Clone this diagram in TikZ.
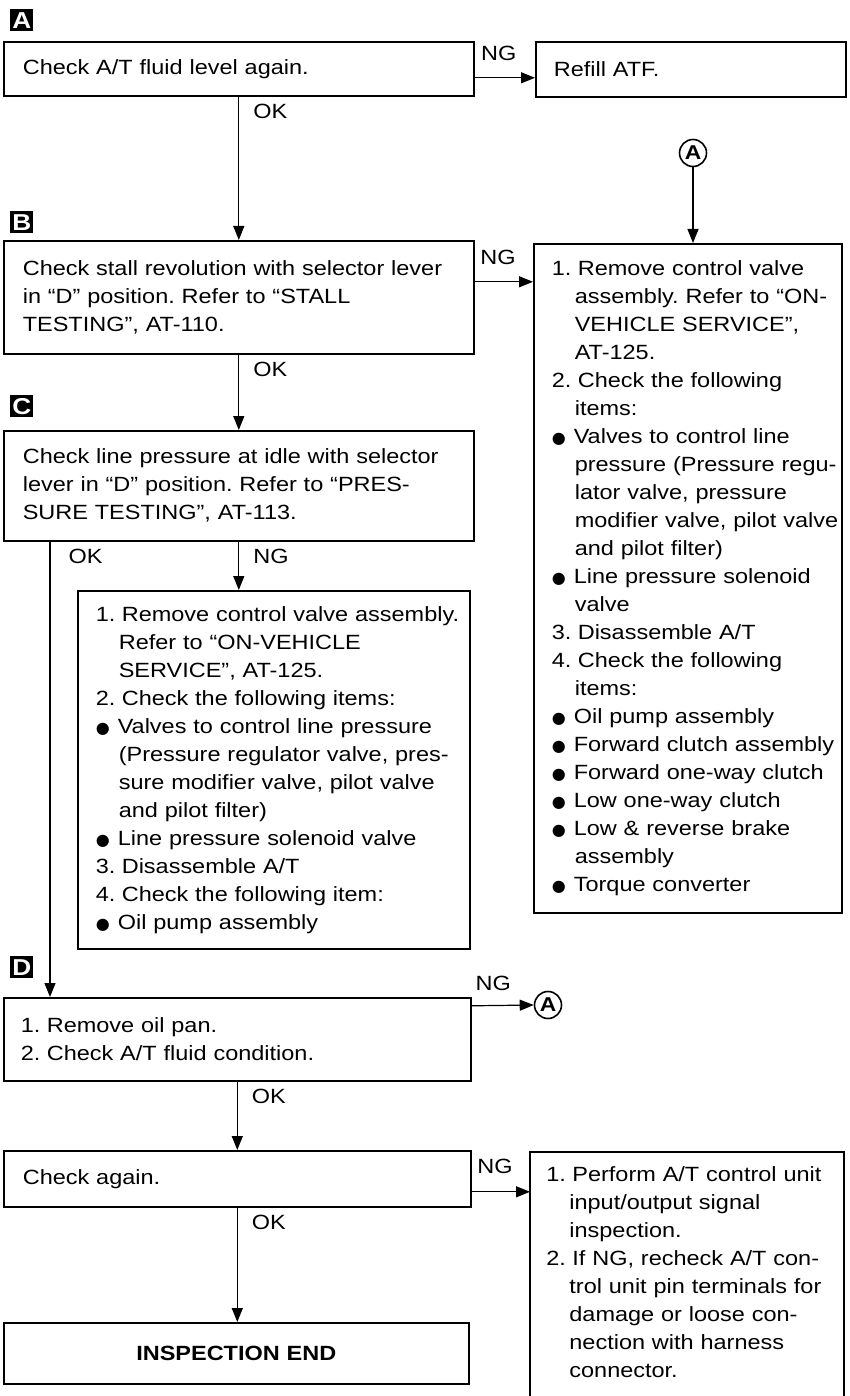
\documentclass[tikz,border=0pt]{standalone}
\usepackage{fontspec}
\setmainfont[FakeStretch=1.14]{Liberation Sans}
\newfontfamily\symfont{DejaVu Sans}
\usetikzlibrary{arrows.meta,positioning}

\newcommand{\stepno}[1]{\makebox[13pt][l]{#1}}
\newcommand{\indentln}{\hspace*{11.5pt}}
\newcommand{\bulletmark}{\makebox[11pt][l]{\symfont\footnotesize ●}}

\tikzset{
  box/.style={draw, line width=0.8pt, anchor=north west, align=left, inner sep=0pt},
  lpad/.style={execute at begin node={\leftskip=#1\relax}},
  tag/.style={fill=black, text=white, font=\fontsize{11.5}{11.5}\selectfont\bfseries, anchor=north west, minimum width=11.5pt, minimum height=11pt, inner sep=0pt},
  goto/.style={draw, circle, line width=0.8pt, font=\fontsize{10}{10}\selectfont\bfseries, inner sep=0pt, minimum size=13.5pt},
  arr/.style={-{Triangle[length=7pt,width=5.5pt]}, line width=0.6pt},
  lbl/.style={inner sep=2pt}
}

\begin{document}
\frenchspacing
\begin{tikzpicture}[x=0.5pt, y=-0.5pt, font=\fontsize{10.3}{14}\selectfont]
\useasboundingbox (0,0) rectangle (850,1396);

% markers
\node[tag] (tagA) at (10,9) {A};
\node[tag] (tagB) at (10,211) {B};
\node[tag] (tagC) at (10,395) {C};
\node[tag] (tagD) at (10,956) {D};

% boxes
\node[box, lpad=9.5pt, text width=235pt, minimum height=27pt] (fluid) at (3,41) {Check A/T fluid level again.};
\node[box, lpad=9pt, text width=155pt, minimum height=27.5pt] (refill) at (535,41) {Refill ATF.};
\node[goto] (gotoA) at (693,153) {A};
\node[box, lpad=9.5pt, text width=235pt, minimum height=56.5pt] (stall) at (3,240) {Check stall revolution with selector lever\\in “D” position. Refer to “STALL\\TESTING”, AT-110.};
\node[box, lpad=9pt, text width=154pt, minimum height=334.5pt] (ctrl) at (533,243) {%
\stepno{1.}Remove control valve\\
\indentln assembly. Refer to “ON-\\
\indentln VEHICLE SERVICE”,\\
\indentln AT-125.\\
\stepno{2.}Check the following\\
\indentln items:\\
\bulletmark Valves to control line\\
\indentln pressure (Pressure regu-\\
\indentln lator valve, pressure\\
\indentln modifier valve, pilot valve\\
\indentln and pilot filter)\\
\bulletmark Line pressure solenoid\\
\indentln valve\\
\stepno{3.}Disassemble A/T\\
\stepno{4.}Check the following\\
\indentln items:\\
\bulletmark Oil pump assembly\\
\bulletmark Forward clutch assembly\\
\bulletmark Forward one-way clutch\\
\bulletmark Low one-way clutch\\
\bulletmark Low \& reverse brake\\
\indentln assembly\\
\bulletmark Torque converter};
\node[box, lpad=9.5pt, text width=235pt, minimum height=55pt] (press) at (3,430) {Check line pressure at idle with selector\\lever in “D” position. Refer to “PRES-\\SURE TESTING”, AT-113.};
\node[box, lpad=9pt, text width=196pt, minimum height=179pt] (valve) at (77,590) {%
\stepno{1.}Remove control valve assembly.\\
\indentln Refer to “ON-VEHICLE\\
\indentln SERVICE”, AT-125.\\
\stepno{2.}Check the following items:\\
\bulletmark Valves to control line pressure\\
\indentln (Pressure regulator valve, pres-\\
\indentln sure modifier valve, pilot valve\\
\indentln and pilot filter)\\
\bulletmark Line pressure solenoid valve\\
\stepno{3.}Disassemble A/T\\
\stepno{4.}Check the following item:\\
\bulletmark Oil pump assembly};
\node[box, lpad=8.5pt, text width=233.5pt, minimum height=41.5pt] (oilpan) at (3,997) {\stepno{1.}Remove oil pan.\\\stepno{2.}Check A/T fluid condition.};
\node[goto] (gotoB) at (548,1005) {A};
\node[box, lpad=9.5pt, text width=233.5pt, minimum height=28pt] (again) at (3,1150) {Check again.};
\node[box, align=center, text width=232.5pt, minimum height=30.5pt, font=\fontsize{10.3}{14}\selectfont\bfseries] (done) at (3,1322) {INSPECTION END};
\node[anchor=north west, align=left, lpad=8pt, text width=156.5pt, inner xsep=0pt, inner ysep=7pt] (pins) at (530,1152) {%
\stepno{1.}Perform A/T control unit\\
\indentln input/output signal\\
\indentln inspection.\\
\stepno{2.}If NG, recheck A/T con-\\
\indentln trol unit pin terminals for\\
\indentln damage or loose con-\\
\indentln nection with harness\\
\indentln connector.};
\coordinate (pinsbot) at (0,1396);
\draw[line width=0.8pt] (pins.north west |- pinsbot) -- (pins.north west) -- (pins.north east) -- (pins.north east |- pinsbot);

% connectors
\draw[arr] ([yshift=-4.5pt]fluid.east) -- node[lbl, above, yshift=6pt, pos=0.4] (ng1) {NG} ([yshift=-4.5pt]fluid.east -| refill.west);
\draw[arr] (fluid.south) -- node[lbl, pos=0, anchor=north west, xshift=5pt, yshift=-1.5pt] (ok1) {OK} (fluid.south |- stall.north);
\draw[arr] (gotoA.south) -- (gotoA.south |- ctrl.north);
\draw[arr] ([yshift=7.75pt]stall.east) -- node[lbl, above, yshift=6pt, pos=0.4] (ng2) {NG} ([yshift=7.75pt]stall.east -| ctrl.west);
\draw[arr] (stall.south) -- node[lbl, pos=0, anchor=north west, xshift=5pt, yshift=-1.5pt] (ok2) {OK} (stall.south |- press.north);
\draw[arr] ([xshift=23.5pt]press.south west) -- node[lbl, pos=0, anchor=north west, xshift=7pt, yshift=-1.5pt] (ok3) {OK} ([xshift=23.5pt]press.south west |- oilpan.north);
\draw[arr] (press.south) -- node[lbl, pos=0, anchor=north west, xshift=5pt, yshift=-1.5pt] (ng3) {NG} (press.south |- valve.north);
\draw[arr] ([yshift=16.75pt]oilpan.east) -- node[lbl, above, yshift=5pt, pos=0.35] (ng4) {NG} (gotoB.west);
\draw[arr] (oilpan.south) -- node[lbl, pos=0, anchor=north west, xshift=5pt, yshift=-1.5pt] (ok4) {OK} (oilpan.south |- again.north);
\draw[arr] ([yshift=-6.5pt]again.east) -- node[lbl, above, yshift=7pt, pos=0.4] (ng5) {NG} ([yshift=-6.5pt]again.east -| pins.west);
\draw[arr] (again.south) -- node[lbl, pos=0, anchor=north west, xshift=5pt, yshift=-1.5pt] (ok5) {OK} (again.south |- done.north);
\end{tikzpicture}
\end{document}
